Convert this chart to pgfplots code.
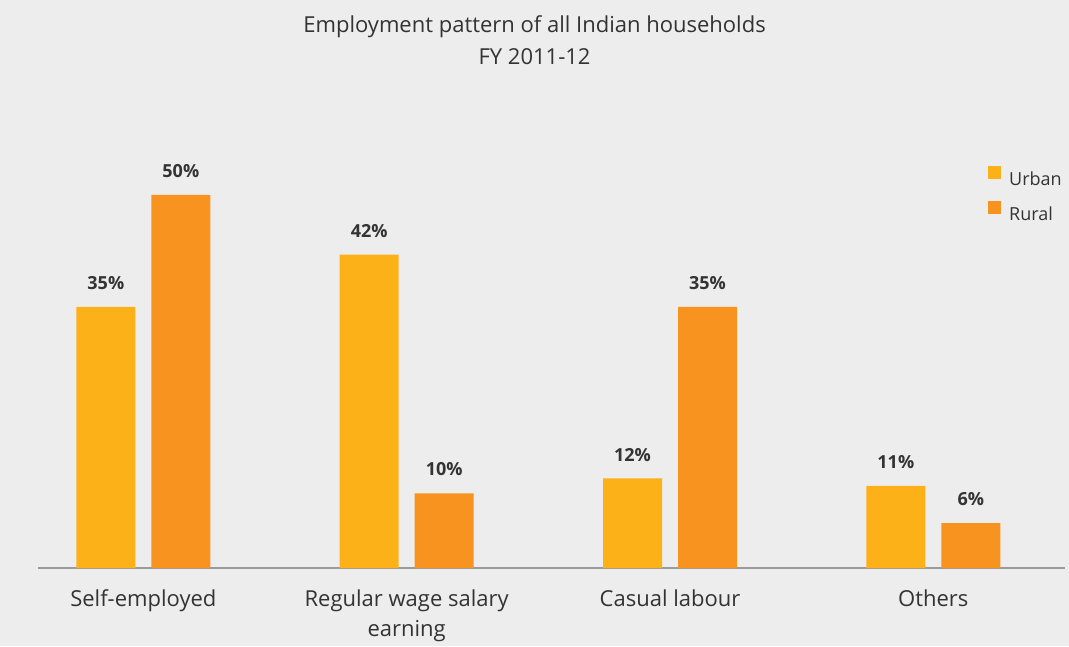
\documentclass[border=0pt]{standalone}
\usepackage{pgfplots}
\pgfplotsset{compat=1.18}
\usepackage{fontspec}
\setmainfont{Open Sans}
\definecolor{bgc}{HTML}{EDEDED}
\definecolor{urban}{HTML}{FDB119}
\definecolor{rural}{HTML}{F7931E}
\definecolor{txt}{HTML}{333333}
\definecolor{axisgray}{HTML}{9A9A9A}
\begin{document}
\begin{tikzpicture}
\fill[bgc] (0,0) rectangle (801.75pt,484.5pt);
\useasboundingbox (0,0) rectangle (801.75pt,484.5pt);
% title, centred on the page
\node[align=center, text=txt, font=\fontsize{16.5}{24}\selectfont] at (400.9pt,454.5pt)
  {Employment pattern of all Indian households\\FY 2011-12};
\begin{axis}[
  at={(28.5pt,58.5pt)}, anchor=south west,
  scale only axis, width=770.25pt, height=313.5pt,
  xmin=-0.4, xmax=3.5, ymin=0, ymax=56,
  ybar=12pt, bar width=44.25pt,
  axis x line=bottom, axis y line=none,
  x axis line style={-, draw=axisgray, line width=1.5pt},
  xtick={0,1,2,3}, xtick style={draw=none},
  xticklabels={Self-employed,{Regular wage salary\\earning},Casual labour,Others},
  xticklabel style={align=center, text=txt, font=\fontsize{16.5}{22.5}\selectfont,
    inner sep=0pt, anchor=north, yshift=-14pt},
  /pgf/number format/assume math mode=true,
  point meta=y,
  nodes near coords={\pgfmathprintnumber{\pgfplotspointmeta}\%},
  nodes near coords style={font=\bfseries\fontsize{13.5}{16}\selectfont, text=txt,
    inner sep=0pt, anchor=south, yshift=12.75pt},
  legend style={at={(axis description cs:0.921,0.9696)}, anchor=north west,
    draw=none, fill=none, font=\fontsize{13.5}{16}\selectfont, text=txt,
    row sep=10pt, nodes={text height=10pt, text depth=0pt, inner sep=2pt},
    /tikz/every odd column/.append style={column sep=4pt}},
  legend cell align=left,
  legend image code/.code={\fill[#1,draw=none] (0pt,0pt) rectangle (9.75pt,9.75pt);},
]
  % Urban
  \addplot[fill=urban, draw=none] coordinates {(0,35) (1,42) (2,12) (3,11)};
  \addlegendentry{Urban}
  % Rural
  \addplot[fill=rural, draw=none] coordinates {(0,50) (1,10) (2,35) (3,6)};
  \addlegendentry{Rural}
\end{axis}
\end{tikzpicture}
\end{document}
